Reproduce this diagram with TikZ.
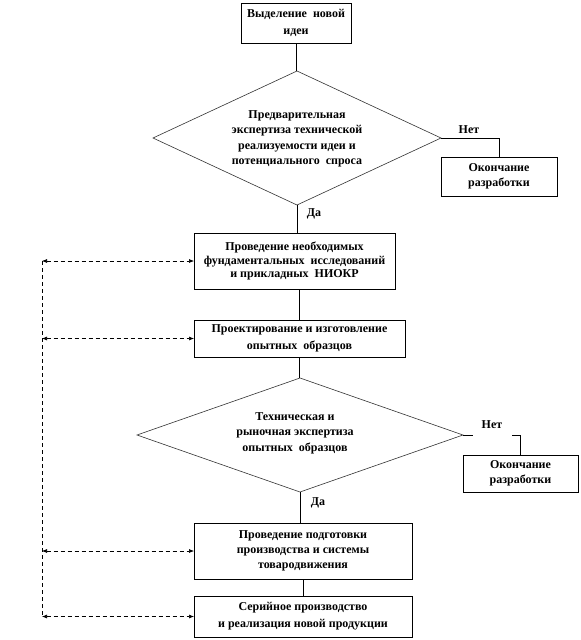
\documentclass[tikz,border=0pt]{standalone}
\usepackage{fontspec}
\setmainfont{Liberation Serif}
\usetikzlibrary{shapes.geometric,arrows.meta}
\begin{document}
\begin{tikzpicture}[x=1pt,y=-1pt,
  every node/.style={font=\bfseries\fontsize{12}{15.5}\selectfont, inner sep=0pt, outer sep=0pt},
  box/.style={draw, line width=0.7pt, align=center},
  dia/.style={draw, diamond, line width=0.6pt, draw=black!80},
  conn/.style={line width=0.7pt},
  dasharrow/.style={line width=0.6pt, dash pattern=on 4pt off 3pt, {Latex[length=5pt,width=4pt]}-{Latex[length=5pt,width=4pt]}},
  dashline/.style={line width=0.6pt, dash pattern=on 4pt off 3pt},
  lbl/.style={align=center}]
\useasboundingbox (0,0) rectangle (581,640);
\fill[white] (0,0) rectangle (581,640);

\node[box, minimum width=110pt, minimum height=40pt, font=\bfseries\fontsize{12}{17}\selectfont] (b1) at (296,23) {Выделение\ \ новой\\идеи};

\node[dia, minimum width=288pt, minimum height=134pt] (d1) at (297,138) {};
\node[lbl] (d1t) at (297,139) {Предварительная\\экспертиза технической\\реализуемости идеи и\\потенциального\ \ спроса};

\node[box, minimum width=116pt, minimum height=39pt] (e1) at (499,176.5) {Окончание\\разработки};
\node[lbl] (n1) at (469,130) {Нет};
\node[lbl] (y1) at (314,214) {Да};

\node[box, minimum width=201pt, minimum height=56pt, font=\bfseries\fontsize{12}{13.5}\selectfont] (b2) at (294.5,261) {Проведение необходимых\\фундаментальных\ \ исследований\\и прикладных\ \ НИОКР};

\node[box, minimum width=211pt, minimum height=37pt, font=\bfseries\fontsize{12}{17}\selectfont] (b3) at (299.5,338.5) {Проектирование и изготовление\\опытных\ \ образцов};

\node[dia, minimum width=326pt, minimum height=114pt] (d2) at (300,435) {};
\node[lbl] (d2t) at (295,433) {Техническая и\\рыночная экспертиза\\опытных\ \ образцов};

\node[box, minimum width=115pt, minimum height=37pt] (e2) at (520.5,473.5) {Окончание\\разработки};
\node[lbl] (y2) at (318,503) {Да};

\node[box, minimum width=218pt, minimum height=56pt, font=\bfseries\fontsize{12}{15}\selectfont] (b4) at (303,551) {Проведение подготовки\\производства и системы\\товародвижения};

\node[box, minimum width=218pt, minimum height=41pt, font=\bfseries\fontsize{12}{17}\selectfont] (b5) at (303,616.5) {Серийное производство\\и реализация новой продукции};

% main flow
\draw[conn] (b1.south) -- (b1.south |- d1.north);
\draw[conn] (d1.south) -- (d1.south |- b2.north);
\draw[conn] (b2.south -| b3.north) -- (b3.north);
\draw[conn] (b3.south) -- (b3.south |- d2.north);
\draw[conn] (d2.south) -- (d2.south |- b4.north);
\draw[conn] (b4.south) -- (b4.south |- b5.north);

% no branches
\draw[conn] (d1.east) -| (e1.north);
\draw[conn] (d2.east) -| (e2.north);
\node[lbl, fill=white, minimum width=39pt, minimum height=22pt] (n2) at (492,425) {Нет};

% feedback dashed lines
\coordinate (L) at (42,0);
\draw[dashline] (L |- b2.west) -- (L |- b5.west);
\draw[dasharrow] (L |- b2.west) -- (b2.west);
\draw[dasharrow] (L |- b3.west) -- (b3.west);
\draw[dasharrow] (L |- b4.west) -- (b4.west);
\draw[dasharrow] (L |- b5.west) -- (b5.west);
\end{tikzpicture}
\end{document}
